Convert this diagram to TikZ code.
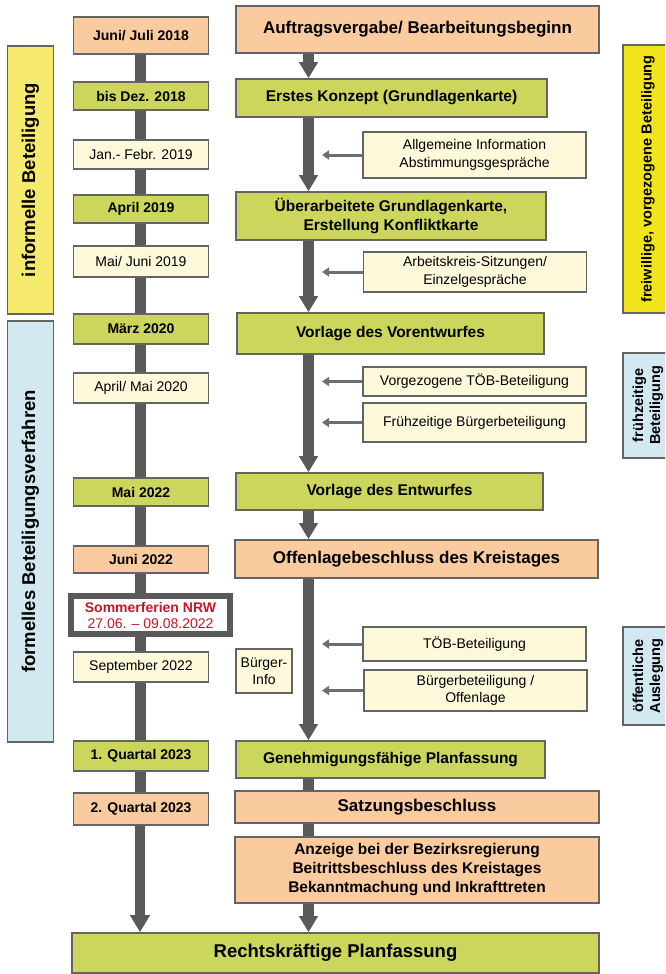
\documentclass[tikz,border=0pt]{standalone}
\usepackage{fontspec}
\setmainfont{Liberation Sans}
\usetikzlibrary{arrows.meta}
\definecolor{planorange}{RGB}{250,203,158}
\definecolor{plangreen}{RGB}{204,214,92}
\definecolor{planlight}{RGB}{254,249,219}
\definecolor{planyellow}{RGB}{245,234,110}
\definecolor{plangold}{RGB}{242,228,26}
\definecolor{planblue}{RGB}{210,233,241}
\definecolor{planframe}{RGB}{100,100,100}
\definecolor{spinegray}{RGB}{89,89,89}
\definecolor{minorgray}{RGB}{110,110,110}
\definecolor{planred}{RGB}{200,22,40}

\begin{document}
\begin{tikzpicture}[x=1pt, y=-1pt,
    box/.style={draw=planframe, line width=1.6pt, fill=#1, align=center, inner sep=2pt},
    datebold/.style={box=#1, minimum width=135pt, font=\fontsize{14}{17}\selectfont\bfseries},
    datelight/.style={box=planlight, minimum width=135pt, font=\fontsize{14}{17}\selectfont},
    stage/.style={box=#1, font=\fontsize{15.5}{19}\selectfont\bfseries},
    stagebig/.style={box=#1, font=\fontsize{17}{20}\selectfont\bfseries},
    info/.style={box=planlight, minimum width=223pt, font=\fontsize{14}{17.5}\selectfont},
    side/.style={box=#1, rotate=90, minimum height=46pt, font=\fontsize{14.5}{17}\selectfont\bfseries},
    spine/.style={draw=spinegray, line width=11pt},
    bigarrow/.style={spine, -{Triangle[width=18pt,length=16pt]}},
    minor/.style={draw=minorgray, line width=3pt, -{Triangle[width=9pt,length=7pt]}}
]
\clip (0,0) rectangle (665,974);

% phase bars
\node[side=planyellow, minimum width=268pt, font=\fontsize{18.5}{21}\selectfont\bfseries] (informell) at (30.5,180) {informelle Beteiligung};
\node[side=planblue, minimum width=421pt, font=\fontsize{18.5}{21}\selectfont\bfseries] (formell) at (30.5,531.5) {formelles Beteiligungsverfahren};
\node[side=plangold, minimum width=268pt, minimum height=50pt] (freiwillig) at (648,179) {freiwillige, vorgezogene Beteiligung};
\node[side=planblue, minimum width=105pt, minimum height=50pt] (fruehzeitig) at (648,405.5) {frühzeitige\\Beteiligung};
\node[side=planblue, minimum width=98pt, minimum height=50pt] (oeffentlich) at (648,676) {öffentliche\\Auslegung};

% dates
\node[datebold=planorange, minimum height=37pt] (d1) at (141,35.5) {Juni/ Juli 2018};
\node[datebold=plangreen, minimum height=28pt] (d2) at (141,96) {bis Dez. 2018};
\node[datelight, minimum height=29pt] (d3) at (141,154.5) {Jan.- Febr. 2019};
\node[datebold=plangreen, minimum height=28pt] (d4) at (141,209) {April 2019};
\node[datelight, minimum height=31pt] (d5) at (141,261.5) {Mai/ Juni 2019};
\node[datebold=plangreen, minimum height=30pt] (d6) at (141,329) {März 2020};
\node[datelight, minimum height=30pt] (d7) at (141,388) {April/ Mai 2020};
\node[datebold=plangreen, minimum height=28pt] (d8) at (141,492) {Mai 2022};
\node[datebold=planorange, minimum height=27pt] (d9) at (141,559.5) {Juni 2022};
\node[draw=spinegray, line width=6pt, fill=white, minimum width=159pt, minimum height=38pt, inner sep=1pt, align=center,
      text=planred, font=\fontsize{14}{16}\selectfont] (ferien) at (150.5,615) {\textbf{Sommerferien NRW}\\27.06. – 09.08.2022};
\node[datelight, minimum height=30pt] (d10) at (141,667) {September 2022};
\node[datebold=plangreen, minimum height=30pt] (d11) at (141,756) {1. Quartal 2023};
\node[datebold=planorange, minimum height=32pt] (d12) at (141,809) {2. Quartal 2023};

% steps
\node[stagebig=planorange, minimum width=363pt, minimum height=47pt] (m1) at (417.5,29.5) {Auftragsvergabe/ Bearbeitungsbeginn};
\node[stage=plangreen, minimum width=311pt, minimum height=38pt] (m2) at (391.5,98) {Erstes Konzept (Grundlagenkarte)};
\node[stage=plangreen, minimum width=310pt, minimum height=48pt] (m3) at (391,216) {Überarbeitete Grundlagenkarte,\\Erstellung Konfliktkarte};
\node[stage=plangreen, minimum width=307pt, minimum height=41pt] (m4) at (390.5,333.5) {Vorlage des Vorentwurfes};
\node[stage=plangreen, minimum width=307pt, minimum height=37pt] (m5) at (389.5,491.5) {Vorlage des Entwurfes};
\node[stagebig=planorange, minimum width=363pt, minimum height=38pt] (m6) at (416.5,559) {Offenlagebeschluss des Kreistages};
\node[stage=plangreen, minimum width=309pt, minimum height=37pt] (m7) at (390.5,759.5) {Genehmigungsfähige Planfassung};
\node[stagebig=planorange, minimum width=364pt, minimum height=32pt] (m8) at (417,807) {Satzungsbeschluss};
\node[stage=planorange, minimum width=364pt, minimum height=66pt] (m9) at (417,870) {Anzeige bei der Bezirksregierung\\Beitrittsbeschluss des Kreistages\\Bekanntmachung und Inkrafttreten};
\node[box=plangreen, minimum width=527pt, minimum height=40pt, font=\fontsize{18.5}{21}\selectfont\bfseries] (rk) at (335.5,953) {Rechtskräftige Planfassung};

% participation
\node[info, minimum height=46pt] (i1) at (474.5,155) {Allgemeine Information\\Abstimmungsgespräche};
\node[info, minimum height=40pt] (i2) at (475,272) {Arbeitskreis-Sitzungen/\\Einzelgespräche};
\node[info, minimum height=29pt] (i3) at (474.5,381.5) {Vorgezogene TÖB-Beteiligung};
\node[info, minimum height=39pt] (i4) at (474.5,422.5) {Frühzeitige Bürgerbeteiligung};
\node[info, minimum height=34pt] (i5) at (474.5,644) {TÖB-Beteiligung};
\node[info, minimum height=41pt] (i6) at (475.5,690.5) {Bürgerbeteiligung /\\Offenlage};
\node[box=planlight, minimum width=56pt, minimum height=44pt, font=\fontsize{14}{17}\selectfont] (buerger) at (264,671) {Bürger-\\Info};

\coordinate (lx) at (140,0);
\coordinate (mx) at (308.5,0);
\coordinate (sx) at (322,0);

% time line
\foreach \a/\b in {d1/d2,d2/d3,d3/d4,d4/d5,d5/d6,d6/d7,d7/d8,d8/d9,d9/ferien,ferien/d10,d10/d11,d11/d12}
  \draw[spine] (\a.south -| lx) -- (\b.north -| lx);
\draw[spine, line width=10.5pt, -{Triangle[width=19pt,length=17pt]}] (d12.south -| lx) -- (rk.north -| lx);

% procedure
\foreach \a/\b in {m1/m2,m2/m3,m3/m4,m4/m5,m5/m6,m6/m7,m9/rk}
  \draw[bigarrow] (\a.south -| mx) -- (\b.north -| mx);
\draw[spine] (m7.south -| mx) -- (m8.north -| mx);
\draw[spine] (m8.south -| mx) -- (m9.north -| mx);

% inputs
\foreach \i in {i1,i2,i3,i4,i5,i6}
  \draw[minor] (\i.west) -- (\i.west -| sx);
\end{tikzpicture}
\end{document}
